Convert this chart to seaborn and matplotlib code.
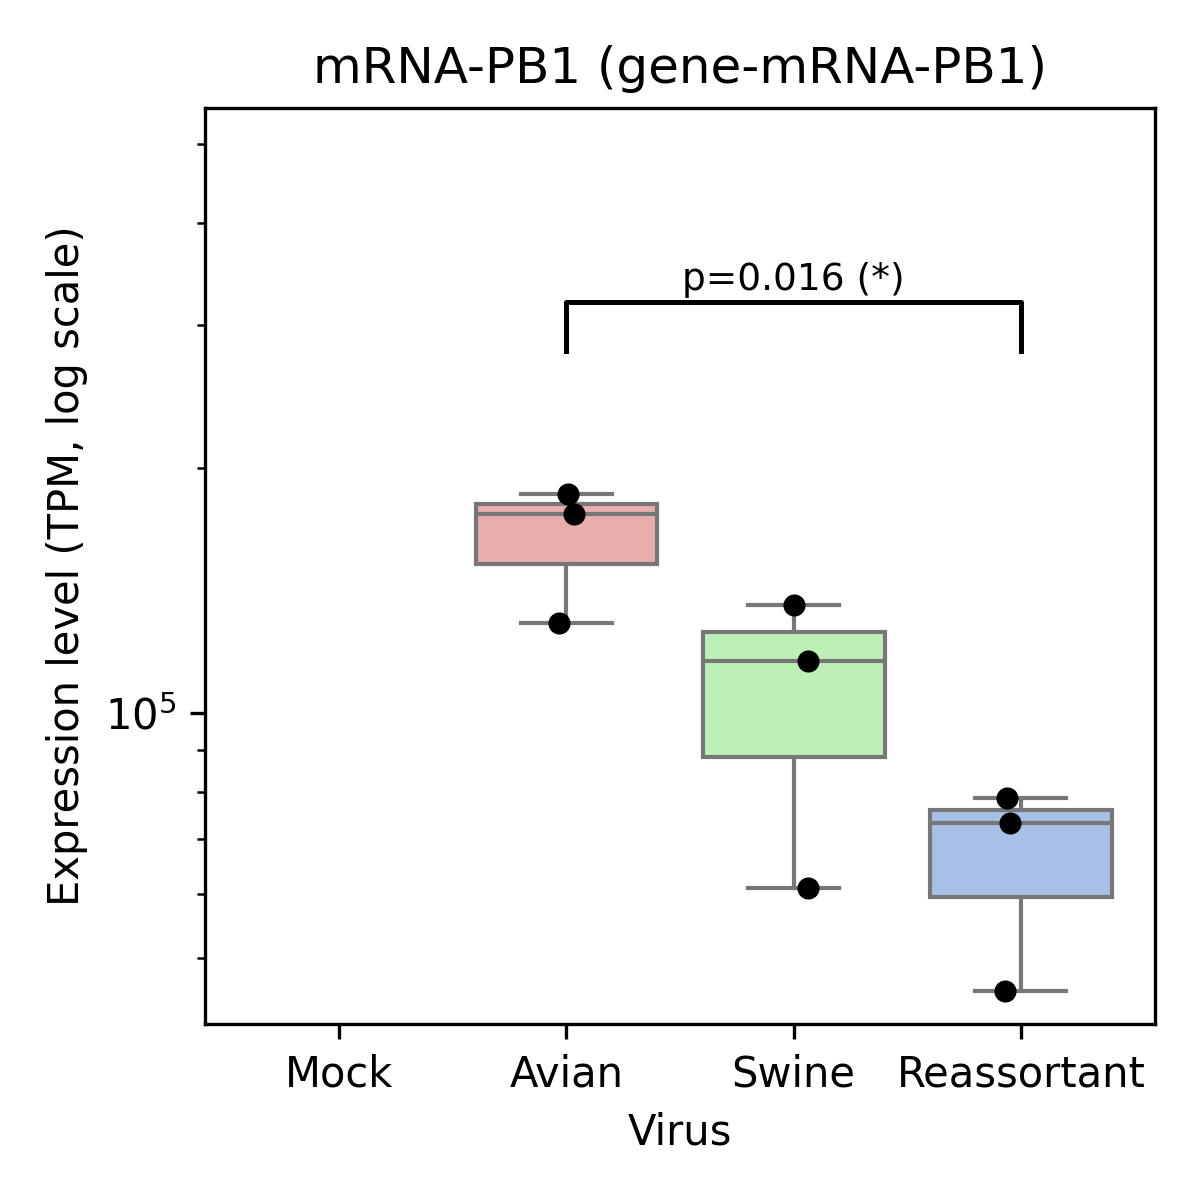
import numpy as np
import pandas as pd
import matplotlib
matplotlib.use("Agg")
import matplotlib.pyplot as plt
import seaborn as sns

categories = ["Mock", "Avian", "Swine", "Reassortant"]
avian_tpm = [185700, 175600, 129000]
swine_tpm = [135700, 115800, 61000]
reassortant_tpm = [78600, 73300, 45600]
box_colors = ["#d3d3d3", "#e8aeae", "#bdf0b7", "#a7c0e8"]
p_text = "p=0.016 (*)"

df = pd.DataFrame({
    "Virus": ["Avian"] * len(avian_tpm) + ["Swine"] * len(swine_tpm) + ["Reassortant"] * len(reassortant_tpm),
    "TPM": avian_tpm + swine_tpm + reassortant_tpm,
})

fig, ax = plt.subplots(figsize=(4, 4), dpi=300)
pal = dict(zip(categories, box_colors))
sns.boxplot(data=df, x="Virus", y="TPM", order=categories, hue="Virus", hue_order=categories,
            palette=pal, saturation=1, legend=False, ax=ax, showfliers=False, linecolor="#777777",
            linewidth=1, width=0.8)
np.random.seed(3)
sns.stripplot(data=df, x="Virus", y="TPM", order=categories, color="black", size=5.3,
              jitter=0.08, ax=ax)
ax.set_yscale("log")
ax.set_ylim(41500, 554000)
ax.set_xlim(-0.59, 3.59)

# significance bracket between Avian and Reassortant
y0 = max(avian_tpm) * 1.5
y1 = y0 * 1.15
ax.plot([1, 1, 3, 3], [y0, y1, y1, y0], color="black", lw=1.2)
ax.text(2, y1 * 1.01, p_text, ha="center", va="bottom", fontsize=9)

ax.set_title("mRNA-PB1 (gene-mRNA-PB1)", fontsize=12)
ax.set_xlabel("Virus", fontsize=10)
ax.set_ylabel("Expression level (TPM, log scale)", fontsize=10)
ax.tick_params(labelsize=10)

fig.subplots_adjust(left=0.171, right=0.9625, top=0.91, bottom=0.1467)
fig.savefig("out.png", dpi=300)
